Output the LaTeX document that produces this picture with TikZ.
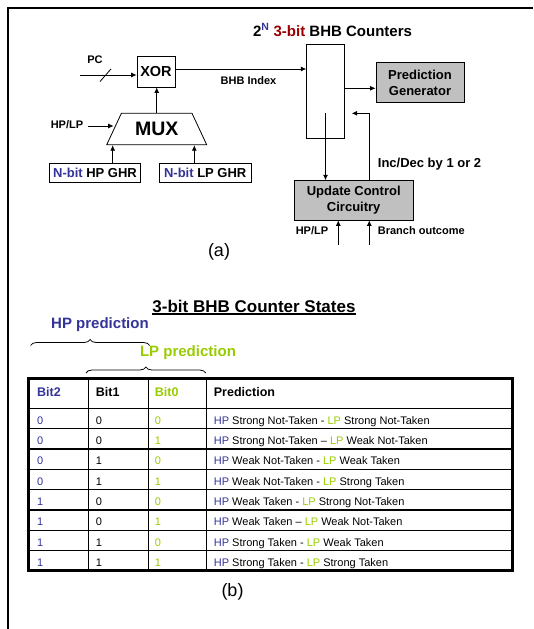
\documentclass[tikz,border=0pt]{standalone}
\usepackage{fontspec}
\setmainfont{Liberation Sans}
\usetikzlibrary{arrows.meta, positioning, shapes.geometric, decorations.pathreplacing}
\definecolor{chp}{HTML}{333399}
\definecolor{clp}{HTML}{99CC00}
\definecolor{cred}{HTML}{990000}
\definecolor{cgrey}{HTML}{C0C0C0}
\tikzset{
  every picture/.style={line width=0.8pt},
  box/.style={draw, fill=#1, align=center, inner sep=0pt, font=\fontsize{13}{16}\selectfont\bfseries},
  box/.default=white,
  arrow/.style={-{Latex[length=5.5pt, width=5pt]}, line width=0.8pt},
  lbl/.style={inner sep=0pt, font=\fontsize{11}{13}\selectfont\bfseries},
  figlabel/.style={inner sep=0pt, font=\fontsize{18}{20}\selectfont},
  hbrace/.style={decorate, decoration={brace, amplitude=6pt}, line width=0.8pt},
  head/.style={anchor=base west, inner sep=0pt, font=\fontsize{12.5}{14}\selectfont\bfseries},
  cell/.style={anchor=base west, inner sep=0pt, font=\fontsize{11}{13}\selectfont},
  grid/.style={line width=1.5pt},
}

\begin{document}
\begin{tikzpicture}[x=1pt, y=-1pt]
  \useasboundingbox (0,0) rectangle (533,629);
  \draw[line width=2.2pt] (7.8,629) -- (7.8,8.2) -- (533,8.2);
  % (a) predictor
  \node[lbl, font=\fontsize{15}{17}\selectfont\bfseries] (title) at (332.5,30) {2\textsuperscript{\textcolor{chp}{N}} \textcolor{cred}{3-bit} BHB Counters};
  \node[box, minimum width=37.6, minimum height=94.3] (cnt) at (325.5,91.2) {};
  \node[box=cgrey, minimum width=88, minimum height=40] (pgen) at (420,82.7) {Prediction\\Generator};
  \node[box, minimum width=38, minimum height=31, font=\fontsize{14.5}{16}\selectfont\bfseries] (xor) at (156,71.5) {XOR};
  \node[draw, trapezium, trapezium angle=65, trapezium stretches body, minimum width=100, inner xsep=0pt, inner ysep=9pt, font=\fontsize{19.5}{21}\selectfont\bfseries] (mux) at (156.7,129) {MUX};
  \node[box, minimum width=91.7, minimum height=19] (hpghr) at (95,172.8) {\textcolor{chp}{N-bit} HP GHR};
  \node[box, minimum width=91.7, minimum height=19] (lpghr) at (205.2,172.8) {\textcolor{chp}{N-bit} LP GHR};
  \node[box=cgrey, minimum width=119.3, minimum height=39.3] (upd) at (353.7,200.3) {Update Control\\Circuitry};
  \node[lbl] (pc) at (95,59.5) {PC};
  \node[lbl] (index) at (248.5,80.5) {BHB Index};
  \node[lbl] (sel) at (67,124.5) {HP/LP};
  \node[lbl, font=\fontsize{13}{15}\selectfont\bfseries, anchor=west] (incdec) at (377.5,164) {Inc/Dec by 1 or 2};
  \node[lbl] (sel2) at (312,231) {HP/LP};
  \node[lbl, anchor=west] (outcome) at (377.5,231) {Branch outcome};
  \node[figlabel] (capa) at (219,251.5) {(a)};
  % connections
  \coordinate (pcin) at (80,75);
  \draw[arrow] (pcin) -- (pcin -| xor.west);
  \draw ([shift={(20,6.5)}]pcin) -- ++(11,-12.5);
  \coordinate (idx) at ([yshift=2.5pt]xor.east);
  \draw[arrow] (idx) -- (idx -| cnt.west);
  \draw[arrow] (mux.north) -- (mux.north |- xor.south);
  \coordinate (selin) at (88,126);
  \draw[arrow] (selin) -- (selin -| mux.west);
  \coordinate (hpup) at ([xshift=17.7pt]hpghr.north);
  \draw[arrow] (hpup) -- (hpup |- mux.south);
  \coordinate (lpup) at ([xshift=-10.9pt]lpghr.north);
  \draw[arrow] (lpup) -- (lpup |- mux.south);
  \coordinate (pgin) at ([yshift=-5.6pt]pgen.west);
  \draw[arrow] (pgin -| cnt.east) -- (pgin);
  \coordinate (rd) at ([yshift=-22pt]cnt.center);
  \draw[arrow] (rd) -- (rd |- upd.north);
  \coordinate (incup) at ([xshift=15.6pt]upd.north);
  \coordinate (wr) at (351.7,113.3);
  \draw[arrow] (incup) |- (wr);
  \coordinate (selin2) at (338.3,245);
  \coordinate (brin) at (369.3,245);
  \draw[arrow] (selin2) -- (selin2 |- upd.south);
  \draw[arrow] (brin) -- (brin |- upd.south);
  % (b) counter states
  \node[inner sep=0pt, font=\fontsize{17}{19}\selectfont\bfseries] (states) at (254,306) {3-bit BHB Counter States};
  \draw[line width=1.2pt] ([yshift=-2pt]states.base west) -- ([yshift=-2pt]states.base east);
  \node[inner sep=0pt, text=chp, font=\fontsize{15}{17}\selectfont\bfseries] (hppred) at (100,325) {HP prediction};
  \node[inner sep=0pt, text=clp, font=\fontsize{15}{17}\selectfont\bfseries] (lppred) at (188,353) {LP prediction};
  \draw[hbrace] (30.6,345.5) -- (149.6,345.5);
  \draw[hbrace] (86,373) -- (205.7,373);
  \foreach \i in {0,...,7} \draw[grid] (28.5,408.3+20.33*\i) -- (512.5,408.3+20.33*\i);
  \foreach \cx in {88.3,148.3,206.7} \draw[grid] (\cx,378.5) -- (\cx,570.5);
  \draw[line width=3pt] (28.5,378.5) rectangle (512.5,570.5);
  \node[head, text=chp] (h2) at (36.8,396.6) {Bit2};
  \node[head] (h1) at (95.5,396.6) {Bit1};
  \node[head, text=clp] (h0) at (154.5,396.6) {Bit0};
  \node[head] (hpr) at (213.5,396.6) {Prediction};
  \foreach \hbit/\mbit/\lbit/\hpt/\jn/\lpt [count=\i] in {
      0/0/0/Strong Not-Taken/-/Strong Not-Taken,
      0/0/1/Strong Not-Taken/--/Weak Not-Taken,
      0/1/0/Weak Not-Taken/-/Weak Taken,
      0/1/1/Weak Not-Taken/-/Strong Taken,
      1/0/0/Weak Taken/-/Strong Not-Taken,
      1/0/1/Weak Taken/--/Weak Not-Taken,
      1/1/0/Strong Taken/-/Weak Taken,
      1/1/1/Strong Taken/-/Strong Taken} {
    \node[cell, text=chp] (b2r\i) at (36.8,403.7+20.33*\i) {\hbit};
    \node[cell] (b1r\i) at (95.5,403.7+20.33*\i) {\mbit};
    \node[cell, text=clp] (b0r\i) at (154.5,403.7+20.33*\i) {\lbit};
    \node[cell] (pr\i) at (213.5,403.7+20.33*\i) {\textcolor{chp}{HP} \hpt{} \jn{} \textcolor{clp}{LP} \lpt};
  }
  \node[figlabel] (capb) at (232.5,592) {(b)};
\end{tikzpicture}
\end{document}
